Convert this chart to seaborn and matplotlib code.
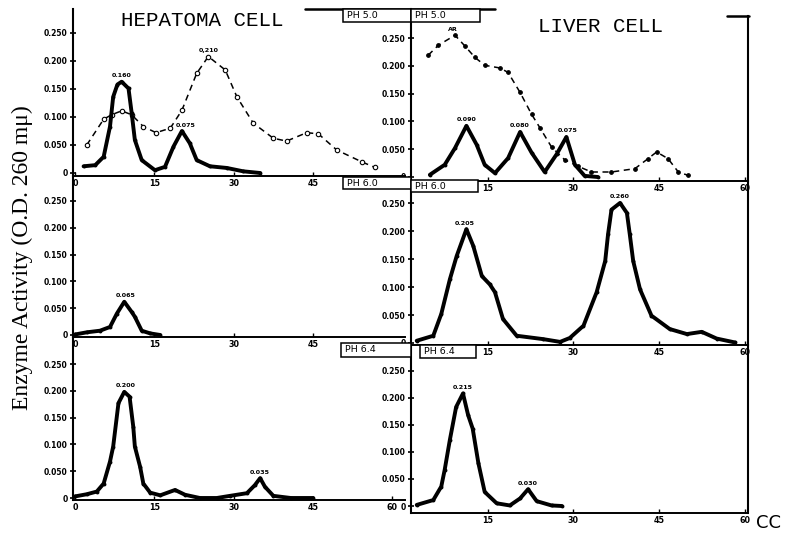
import matplotlib
matplotlib.use("Agg")
import matplotlib.pyplot as plt
import seaborn as sns
from matplotlib.lines import Line2D
from matplotlib.patches import Rectangle

# ---------------- data ----------------
# HEPATOMA CELL, pH 5.0
hep50_solid_x = [1.6, 3.8, 5.4, 6.6, 7.2, 8.0, 8.8, 10.1, 10.7, 11.3, 12.6, 15.1, 17.0, 18.6, 20.2, 21.7, 23.0, 25.5, 28.7, 31.8, 35.0]
hep50_solid_y = [0.012, 0.014, 0.029, 0.083, 0.136, 0.158, 0.163, 0.151, 0.107, 0.059, 0.023, 0.005, 0.011, 0.047, 0.075, 0.053, 0.023, 0.012, 0.009, 0.003, 0.0]
hep50_dash_x = [2.2, 5.4, 6.9, 8.8, 10.7, 12.9, 15.3, 18.0, 20.2, 23.0, 25.2, 28.4, 30.6, 33.7, 37.5, 40.0, 43.8, 46.0, 49.5, 54.2, 56.7]
hep50_dash_y = [0.050, 0.096, 0.104, 0.111, 0.104, 0.083, 0.072, 0.080, 0.112, 0.178, 0.208, 0.184, 0.136, 0.089, 0.062, 0.057, 0.072, 0.070, 0.041, 0.020, 0.010]

# LIVER CELL, pH 5.0
liv50_solid_x = [4.9, 7.5, 9.3, 11.3, 13.1, 14.5, 16.3, 18.6, 20.7, 22.7, 25.0, 27.1, 28.8, 30.3, 32.0, 34.3]
liv50_solid_y = [0.004, 0.022, 0.052, 0.092, 0.058, 0.022, 0.007, 0.034, 0.081, 0.044, 0.009, 0.041, 0.072, 0.022, 0.002, 0.0]
liv50_dash_x = [4.6, 6.4, 9.3, 11.0, 12.8, 14.5, 17.2, 18.6, 20.7, 22.7, 24.2, 26.2, 28.5, 30.9, 33.2, 36.7, 40.8, 43.1, 44.6, 46.6, 48.4, 50.1]
liv50_dash_y = [0.219, 0.237, 0.255, 0.236, 0.215, 0.201, 0.196, 0.188, 0.152, 0.113, 0.088, 0.054, 0.031, 0.019, 0.009, 0.009, 0.015, 0.033, 0.045, 0.033, 0.009, 0.003]

# HEPATOMA CELL, pH 6.0
hep60_x = [0.0, 2.2, 4.7, 6.6, 7.9, 9.3, 10.7, 11.3, 12.6, 14.2, 16.1]
hep60_y = [0.001, 0.005, 0.008, 0.015, 0.040, 0.062, 0.043, 0.034, 0.008, 0.003, 0.0]

# LIVER CELL, pH 6.0
liv60_x = [2.6, 5.5, 6.9, 8.4, 9.6, 11.3, 12.5, 14.0, 15.4, 16.3, 17.7, 20.1, 24.7, 27.7, 29.4, 31.8, 34.1, 35.6, 36.1, 36.7, 38.2, 39.4, 39.9, 40.5, 41.7, 43.7, 46.9, 49.9, 52.5, 55.1, 58.3]
liv60_y = [0.004, 0.013, 0.052, 0.114, 0.156, 0.204, 0.174, 0.120, 0.105, 0.091, 0.043, 0.013, 0.007, 0.002, 0.009, 0.031, 0.091, 0.147, 0.195, 0.239, 0.251, 0.233, 0.195, 0.147, 0.096, 0.049, 0.025, 0.016, 0.020, 0.008, 0.001]

# HEPATOMA CELL, pH 6.4
hep64_x = [0.0, 2.2, 4.1, 5.4, 6.6, 7.2, 8.2, 9.3, 10.3, 11.0, 11.3, 12.3, 12.9, 14.2, 16.1, 18.9, 20.8, 23.6, 26.8, 29.3, 32.5, 34.0, 35.0, 35.9, 37.5, 40.8, 45.0]
hep64_y = [0.003, 0.007, 0.012, 0.027, 0.068, 0.096, 0.177, 0.198, 0.189, 0.133, 0.096, 0.058, 0.027, 0.010, 0.005, 0.015, 0.006, 0.0, 0.0, 0.004, 0.009, 0.024, 0.037, 0.021, 0.004, 0.0, 0.0]

# LIVER CELL, pH 6.4
liv64_x = [2.6, 5.5, 6.9, 7.5, 8.4, 9.5, 10.7, 11.6, 12.4, 13.4, 14.5, 16.6, 18.9, 20.7, 22.1, 23.6, 26.2, 28.0]
liv64_y = [0.002, 0.011, 0.036, 0.067, 0.122, 0.183, 0.208, 0.168, 0.143, 0.079, 0.026, 0.005, 0.001, 0.014, 0.031, 0.009, 0.001, 0.0]

# peak labels: (x, y, text)
hep50_peaks = [(8.8, 0.163, "0.160"), (25.2, 0.208, "0,210"), (21.0, 0.075, "0.075")]
liv50_peaks = [(11.3, 0.092, "0.090"), (20.7, 0.081, "0.080"), (29.0, 0.072, "0.075"), (9.0, 0.255, "AR")]
hep60_peaks = [(9.5, 0.062, "0.065")]
liv60_peaks = [(11.0, 0.204, "0.205"), (38.2, 0.251, "0.260")]
hep64_peaks = [(9.5, 0.198, "0.200"), (35.0, 0.037, "0.035")]
liv64_peaks = [(10.7, 0.208, "0.215"), (22.1, 0.031, "0.030")]

y_ticks = [0, 0.05, 0.10, 0.15, 0.20, 0.25]
y_tick_labels = ["0", "0.050", "0.100", "0.150", "0.200", "0.250"]
left_x_ticks = [0, 15, 30, 45]
left_x_ticks_bottom = [0, 15, 30, 45, 60]
right_x_ticks = [15, 30, 45, 60]
ph_labels = ["PH 5.0", "PH 6.0", "PH 6.4"]

# ---------------- figure ----------------
sns.set_theme(style="white")
plt.rcParams["font.family"] = ["DejaVu Sans"]
W, H = 788, 533
fig = plt.figure(figsize=(W / 100, H / 100), dpi=100)
fig.patch.set_facecolor("white")


def fx(px):
    return px / W


def fy(py):
    return 1 - py / H


def add_ax(x0, x1, ytop, ybot):
    return fig.add_axes([fx(x0), fy(ybot), (x1 - x0) / W, (ybot - ytop) / H])


def style(ax, xlim, ylim, xticks, right=False, rbound=None):
    ax.set_xlim(*xlim)
    ax.set_ylim(*ylim)
    ax.set_facecolor("none")
    ax.grid(False)
    for s in ["top", "right"]:
        ax.spines[s].set_visible(False)
    ax.spines["left"].set_linewidth(1.5)
    ax.spines["bottom"].set_linewidth(1.4)
    ax.spines["left"].set_color("black")
    ax.spines["bottom"].set_color("black")
    if right:
        ax.spines["right"].set_visible(True)
        ax.spines["right"].set_linewidth(1.5)
        ax.spines["right"].set_color("black")
        if rbound is not None:
            ax.spines["right"].set_bounds(ylim[0], rbound)
    ax.set_yticks(y_ticks)
    ax.set_yticklabels(y_tick_labels)
    ax.set_xticks(xticks)
    ax.set_xticklabels([str(t) for t in xticks])
    ax.tick_params(axis="y", direction="inout", length=5, width=1.2, labelsize=5.5, pad=1.5,
                   left=True, colors="black")
    ax.tick_params(axis="x", direction="in", length=3, width=1.0, labelsize=5.8, pad=2.5,
                   bottom=True, colors="black")
    for lbl in ax.get_xticklabels() + ax.get_yticklabels():
        lbl.set_fontweight("bold")
    ax.set_xlabel("")
    ax.set_ylabel("")


def solid(ax, x, y):
    sns.lineplot(x=x, y=y, ax=ax, color="black", lw=2.8, marker="o", markersize=2.8,
                 markeredgewidth=0, sort=False, errorbar=None)


def dashed(ax, x, y, open_marker=True):
    sns.lineplot(x=x, y=y, ax=ax, color="black", lw=1.1, linestyle=(0, (4, 3)), marker="o",
                 markersize=3.2 if open_marker else 2.6,
                 markerfacecolor="white" if open_marker else "black",
                 markeredgecolor="black", markeredgewidth=0.8, sort=False, errorbar=None)


def peaks(ax, plist):
    for x, y, t in plist:
        ax.annotate(t, xy=(x, y), xytext=(0, 2.5), textcoords="offset points",
                    ha="center", va="bottom", fontsize=4.6, fontweight="bold", color="black")


LX = (-0.4, 62.4)
RX = (1.6, 60.6)

# top row
ax1 = add_ax(73, 405, 9, 176)
style(ax1, LX, ((173 - 176) / 560, (173 - 9) / 560), left_x_ticks)
dashed(ax1, hep50_dash_x, hep50_dash_y, open_marker=True)
solid(ax1, hep50_solid_x, hep50_solid_y)
peaks(ax1, hep50_peaks)

ax2 = add_ax(411, 748, 9, 181)
style(ax2, RX, ((177 - 181) / 556, (177 - 9) / 556), right_x_ticks, right=True,
      rbound=(177 - 16) / 556)
dashed(ax2, liv50_dash_x, liv50_dash_y, open_marker=False)
solid(ax2, liv50_solid_x, liv50_solid_y)
peaks(ax2, liv50_peaks)

# middle row
ax3 = add_ax(73, 405, 176, 337)
style(ax3, LX, ((335 - 337) / 536, (335 - 176) / 536), left_x_ticks)
solid(ax3, hep60_x, hep60_y)
peaks(ax3, hep60_peaks)

ax4 = add_ax(411, 748, 181, 345)
style(ax4, RX, ((343 - 345) / 558, (343 - 181) / 558), right_x_ticks, right=True)
solid(ax4, liv60_x, liv60_y)
peaks(ax4, liv60_peaks)

# bottom row
ax5 = add_ax(73, 405, 337, 500)
style(ax5, LX, ((498 - 500) / 536, (498 - 337) / 536), left_x_ticks_bottom)
solid(ax5, hep64_x, hep64_y)
peaks(ax5, hep64_peaks)

ax6 = add_ax(411, 748, 345, 513)
style(ax6, RX, ((506 - 513) / 541, (506 - 345) / 541), right_x_ticks, right=True)
solid(ax6, liv64_x, liv64_y)
peaks(ax6, liv64_peaks)

# ---------------- decorations ----------------
def hline(x0, x1, y, lw=1.6):
    fig.add_artist(Line2D([fx(x0), fx(x1)], [fy(y), fy(y)], color="black", lw=lw,
                          transform=fig.transFigure))


hline(305, 495, 9, 1.8)
hline(727, 749, 16, 1.8)


def ph_box(x0, x1, ytop, ybot, text):
    fig.add_artist(Rectangle((fx(x0), fy(ybot)), (x1 - x0) / W, (ybot - ytop) / H,
                             transform=fig.transFigure, facecolor="white",
                             edgecolor="black", lw=1.1, zorder=5))
    fig.text(fx(x0 + 4), fy((ytop + ybot) / 2), text, ha="left", va="center",
             fontsize=6.8, color="black", zorder=6)


ph_box(343, 411, 9, 22, ph_labels[0])
ph_box(411, 480, 9, 22, ph_labels[0])
ph_box(343, 411, 177, 189, ph_labels[1])
ph_box(411, 478, 180, 192, ph_labels[1])
ph_box(341, 411, 343, 357, ph_labels[2])
ph_box(420, 476, 345, 358, ph_labels[2])

fig.text(fx(202), fy(20), "HEPATOMA CELL", ha="center", va="center",
         fontsize=15, family="Liberation Mono", color="black")
fig.text(fx(600), fy(27), "LIVER CELL", ha="center", va="center",
         fontsize=15, family="Liberation Mono", color="black")
fig.text(fx(22), fy(258), "Enzyme Activity (O.D. 260 m\u03bc)", rotation=90,
         ha="center", va="center", fontsize=17, family=["Liberation Serif", "DejaVu Serif"],
         color="black")
fig.text(fx(756), fy(523), "CC", ha="left", va="center", fontsize=13, color="black")

fig.savefig("out.png", dpi=100, facecolor="white")
